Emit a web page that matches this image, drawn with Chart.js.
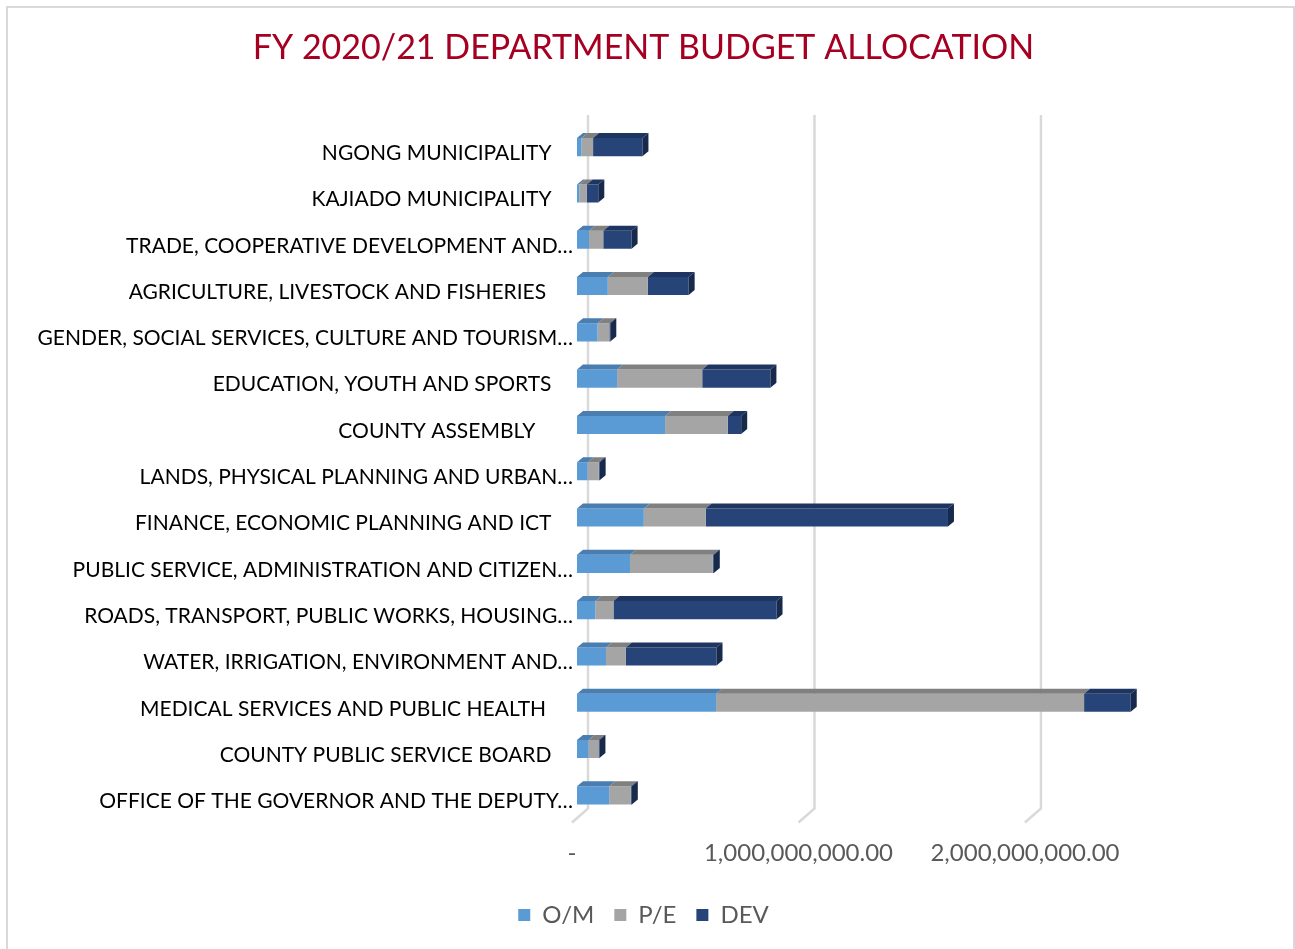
<!DOCTYPE html>
<html>
<head>
<meta charset="utf-8">
<script src="https://cdn.jsdelivr.net/npm/chart.js@4.4.0/dist/chart.umd.min.js"></script>
<style>
  body { margin: 0; background: #fff; }
  canvas { display: block; }
</style>
</head>
<body>
<canvas id="budget" width="1295" height="949"></canvas>
<script>
const departments = [
  'NGONG MUNICIPALITY',
  'KAJIADO MUNICIPALITY',
  'TRADE, COOPERATIVE DEVELOPMENT AND…',
  'AGRICULTURE, LIVESTOCK AND FISHERIES ',
  'GENDER, SOCIAL SERVICES, CULTURE AND TOURISM…',
  'EDUCATION, YOUTH AND SPORTS',
  'COUNTY ASSEMBLY   ',
  'LANDS, PHYSICAL PLANNING AND URBAN…',
  'FINANCE, ECONOMIC PLANNING AND ICT',
  'PUBLIC SERVICE, ADMINISTRATION AND CITIZEN…',
  'ROADS, TRANSPORT, PUBLIC WORKS, HOUSING…',
  'WATER, IRRIGATION, ENVIRONMENT AND…',
  'MEDICAL SERVICES AND PUBLIC HEALTH ',
  'COUNTY PUBLIC SERVICE BOARD',
  'OFFICE OF THE GOVERNOR AND THE DEPUTY…'
];

// KES
const omValues  = [20e6, 10e6, 53e6, 136e6, 91e6, 177e6, 389e6, 47e6, 295e6, 234e6, 81e6, 128e6, 614e6, 51e6, 142e6];
const peValues  = [51e6, 33e6, 63e6, 177e6, 52e6, 376e6, 277e6, 49e6, 273e6, 366e6, 80e6, 88e6, 1625e6, 44e6, 96e6];
const devValues = [218e6, 51e6, 125e6, 180e6, 4e6, 301e6, 59e6, 4e6, 1070e6, 4e6, 720e6, 400e6, 206e6, 4e6, 4e6];

const xTicks = [0, 1000000000, 2000000000];

const seriesNames = ['O/M', 'P/E', 'DEV'];
const frontColors = ['#5b9bd5', '#a5a5a5', '#264478'];
const topColors = ['#4a7db0', '#808080', '#1d3560'];
const sideColor = '#172a4c';

const FONT = 'Lato';

// fake 3d: top faces on every segment, side face on the last one
const bars3d = {
  id: 'bars3d',
  afterDatasetsDraw(chart) {
    const c = chart.ctx;
    const dx = 6, dy = 5;
    const last = chart.data.datasets.length - 1;
    c.save();
    chart.data.datasets.forEach((ds, i) => {
      chart.getDatasetMeta(i).data.forEach(bar => {
        const { x, y, base, height } = bar.getProps(['x', 'y', 'base', 'height'], true);
        const top = y - height / 2, bottom = y + height / 2;
        c.fillStyle = topColors[i];
        c.beginPath();
        c.moveTo(base, top);
        c.lineTo(x, top);
        c.lineTo(x + dx, top - dy);
        c.lineTo(base + dx, top - dy);
        c.closePath();
        c.fill();
        if (i === last) {
          c.fillStyle = sideColor;
          c.beginPath();
          c.moveTo(x, top);
          c.lineTo(x + dx, top - dy);
          c.lineTo(x + dx, bottom - dy);
          c.lineTo(x, bottom);
          c.closePath();
          c.fill();
        }
      });
    });
    c.restore();
  }
};

// back wall gridlines with the little floor kink
const wallGrid = {
  id: 'wallGrid',
  beforeDatasetsDraw(chart) {
    const xs = chart.scales.x, a = chart.chartArea, c = chart.ctx;
    c.save();
    c.strokeStyle = '#d9d9d9';
    c.lineWidth = 2.5;
    xTicks.forEach(v => {
      const px = xs.getPixelForValue(v) + 11;
      c.beginPath();
      c.moveTo(px, a.top - 9);
      c.lineTo(px, a.bottom - 10);
      c.lineTo(px - 16, a.bottom + 4);
      c.stroke();
    });
    c.restore();
  }
};

const frame = {
  id: 'frame',
  beforeDraw(chart) {
    const c = chart.ctx;
    c.save();
    c.fillStyle = '#fff';
    c.fillRect(0, 0, chart.width, chart.height);
    c.strokeStyle = '#d9d9d9';
    c.lineWidth = 2;
    c.strokeRect(7, 7, 1287, 960);
    c.restore();
  }
};

new Chart(document.getElementById('budget'), {
  type: 'bar',
  data: {
    labels: departments,
    datasets: [
      { label: seriesNames[0], data: omValues, backgroundColor: frontColors[0] },
      { label: seriesNames[1], data: peValues, backgroundColor: frontColors[1] },
      { label: seriesNames[2], data: devValues, backgroundColor: frontColors[2] }
    ]
  },
  options: {
    responsive: false,
    animation: false,
    indexAxis: 'y',
    barPercentage: 0.39,
    categoryPercentage: 1,
    layout: { padding: { left: 0, right: 8, top: 0, bottom: 12 } },
    scales: {
      x: {
        stacked: true,
        min: 0,
        max: 3135000000,
        afterBuildTicks: s => { s.ticks = xTicks.map(v => ({ value: v })); },
        afterFit: s => { s.height = 64.5; },
        grid: { display: false, drawTicks: false },
        border: { display: false },
        ticks: {
          autoSkip: false,
          maxRotation: 0,
          padding: 20,
          labelOffset: -5,
          color: '#595959',
          font: { family: FONT, size: 24 },
          callback: v => v === 0 ? '-' : Number(v).toLocaleString('en-US', { minimumFractionDigits: 2 })
        }
      },
      y: {
        stacked: true,
        afterFit: s => { s.width = 577; },
        grid: { display: false, drawTicks: false },
        border: { display: false },
        ticks: {
          autoSkip: false,
          padding: 4,
          labelOffset: 6,
          color: '#000',
          font: { family: FONT, size: 21 },
          callback: function (v) {
            const t = this.getLabelForValue(v);
            return t.endsWith('…') ? t : t + '    ';
          }
        }
      }
    },
    plugins: {
      title: {
        display: true,
        text: 'FY 2020/21 DEPARTMENT BUDGET ALLOCATION',
        color: '#a50021',
        font: { family: FONT, size: 34, weight: 'normal' },
        padding: { top: 27.6, bottom: 55.6 }
      },
      legend: {
        position: 'bottom',
        labels: {
          boxWidth: 12,
          boxHeight: 12,
          padding: 20,
          color: '#595959',
          font: { family: FONT, size: 24 }
        }
      },
      tooltip: { enabled: false }
    }
  },
  plugins: [frame, wallGrid, bars3d]
});
</script>
</body>
</html>
